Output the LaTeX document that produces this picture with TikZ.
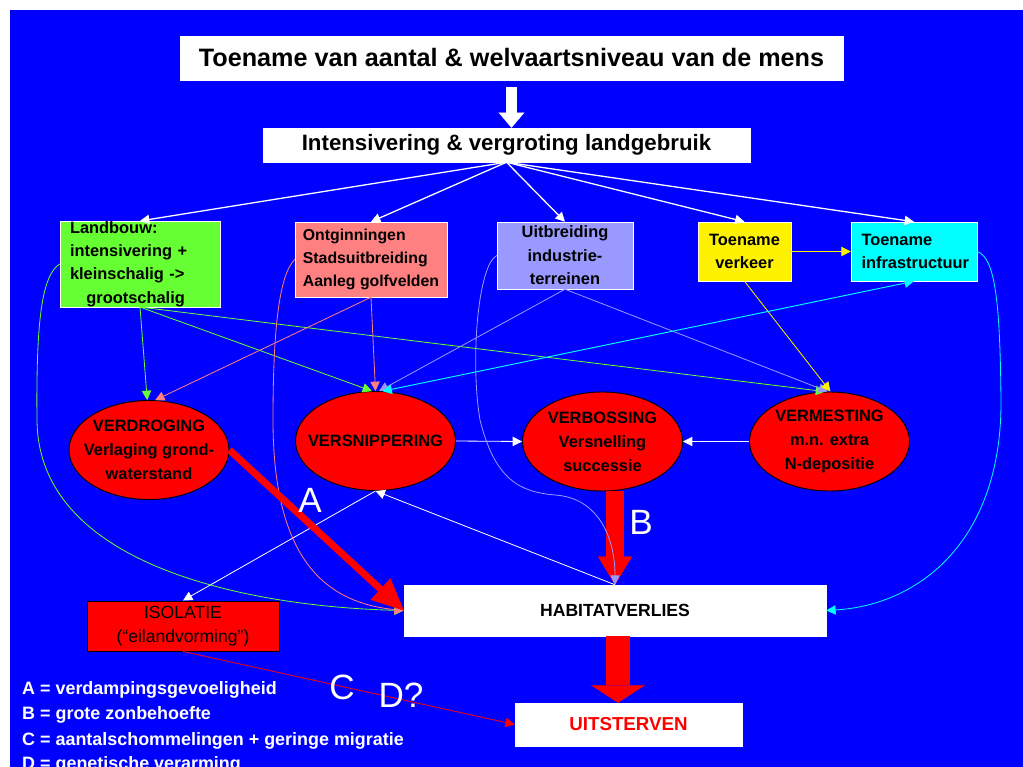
\documentclass[tikz,border=0pt]{standalone}
\usepackage{fontspec}
\setmainfont{Liberation Sans}
\usepackage{tikz}
\usetikzlibrary{arrows.meta,shapes.geometric,calc}
\tikzset{>={Triangle[length=8pt,width=8pt]}}
\definecolor{bgblue}{HTML}{0000FF}
\definecolor{landgreen}{HTML}{66FF33}
\definecolor{ontgpink}{HTML}{FF8080}
\definecolor{lavender}{HTML}{9999FF}
\definecolor{infracyan}{HTML}{00FFFF}
\def\px{0.03cm}
\tikzstyle{whitebox}=[fill=white, draw=white, inner sep=0pt]
\tikzstyle{cause}=[draw=white, inner sep=0pt, font=\bfseries\fontsize{14}{20}\selectfont]
\tikzstyle{effect}=[ellipse, draw=black, thick, fill=red, inner xsep=-12pt, inner ysep=0pt,
  align=center, minimum width=160*\px, minimum height=99*\px,
  font=\bfseries\fontsize{14}{20.4}\selectfont]
\tikzstyle{link}=[->, line width=0.7pt]
\tikzstyle{bigletter}=[text=white, inner sep=0pt, font=\fontsize{30}{30}\selectfont]
\tikzstyle{legend}=[text=white, anchor=west, inner sep=0pt, font=\bfseries\fontsize{15.3}{17}\selectfont]

\begin{document}
\begin{tikzpicture}[x=\px, y=-\px]
  \path[use as bounding box, clip] (0,0) rectangle (1023,767);
  \fill[white] (0,0) rectangle (1023,767);
  \fill[bgblue] (10,10) rectangle (1023,767);

  % top of the chain
  \node[whitebox, minimum width=663*\px, minimum height=44*\px,
    font=\bfseries\fontsize{21.5}{24}\selectfont] (mens) at (511.5,58)
    {Toename van aantal \& welvaartsniveau van de mens};
  \node[whitebox, minimum width=487*\px, minimum height=34*\px,
    font=\bfseries\fontsize{19}{22}\selectfont] (intens) at (506.5,145)
    {Intensivering \& vergroting landgebruik};

  % causes
  \node[cause, fill=landgreen, minimum width=160*\px, minimum height=84*\px,
    text width=140*\px, align=left] (landbouw) at (140,264)
    {Landbouw:\\intensivering +\\kleinschalig ->\\\hspace*{1em}grootschalig};
  \node[cause, fill=ontgpink, minimum width=152*\px, minimum height=75*\px,
    align=left, font=\bfseries\fontsize{13.5}{20}\selectfont] (ontg) at (371,259.5)
    {Ontginningen\\Stadsuitbreiding\\Aanleg golfvelden};
  \node[cause, fill=lavender, minimum width=136*\px, minimum height=67*\px,
    align=center] (uitbr) at (565,255.5)
    {Uitbreiding\\industrie-\\terreinen};
  \node[cause, fill=yellow, minimum width=93*\px, minimum height=59*\px,
    align=center] (verkeer) at (744.5,251.5)
    {Toename\\verkeer};
  \node[cause, fill=infracyan, minimum width=126*\px, minimum height=59*\px,
    text width=105*\px, align=left] (infra) at (914,251.5)
    {Toename\\infrastructuur};

  % effects
  \node[effect] (verdroging) at (149,450) {VERDROGING\\Verlaging grond-\\waterstand};
  \node[effect] (versnip) at (375.5,441) {VERSNIPPERING};
  \node[effect] (verbos) at (602.5,441.5) {VERBOSSING\\Versnelling\\successie};
  \node[effect] (vermest) at (829.5,441.5) {VERMESTING\\m.n. extra\\N-depositie};

  \node[whitebox, minimum width=422*\px, minimum height=51*\px,
    font=\bfseries\fontsize{15}{18}\selectfont] (habitat) at (615,610.5) {HABITATVERLIES};
  \node[whitebox, minimum width=227*\px, minimum height=43*\px, text=red,
    font=\bfseries\fontsize{16}{18}\selectfont] (uitst) at (628.5,724.5) {UITSTERVEN};
  \node[draw=black, thick, fill=red, inner sep=0pt, minimum width=192*\px,
    minimum height=50*\px, align=center, font=\fontsize{15}{20}\selectfont]
    (isolatie) at (183,626) {ISOLATIE\\(“eilandvorming”)};

  % big arrows
  \draw[white, line width=10pt, -{Triangle[length=13pt,width=22pt,line width=0.1pt]}]
    ($(mens.south)+(0,7)$) -- (mens.south |- intens.north);
  \draw[red, line width=15pt, -{Triangle[length=24pt,width=29pt,line width=0.1pt]}]
    (verbos.south -| habitat.north) -- (habitat.north);
  \draw[red, line width=21pt, -{Triangle[length=15pt,width=46pt,line width=0.1pt]}]
    ($(habitat.south)+(3,0)$) -- ($(habitat.south |- uitst.north)+(3,0)$);

  % spreading out
  \foreach \t in {landbouw,ontg,uitbr,verkeer,infra}
    \draw[link, white, line width=1.1pt] (intens.south) -- (\t.north);
  \draw[link, yellow] (verkeer.east) -- (infra.west);

  \draw[link, landgreen] (landbouw.south) -- (verdroging.92);
  \draw[link, landgreen] (landbouw.south) -- (versnip.94);
  \draw[link, landgreen] (landbouw.south) -- (vermest.95);
  \draw[link, ontgpink] (ontg.south) -- (verdroging.83);
  \draw[link, ontgpink] (ontg.south) -- (versnip.90);
  \draw[link, lavender] (uitbr.south) -- (versnip.86);
  \draw[link, lavender] (uitbr.south) -- (vermest.92);
  \draw[link, yellow] (verkeer.south) -- (vermest.89);
  \draw[<->, infracyan, line width=0.8pt] (versnip.82) -- (infra.south);

  \draw[link, white] (versnip.east) -- (verbos.west);
  \draw[link, white] (vermest.west) -- (verbos.east);
  \draw[link, white] (habitat.north) -- (versnip.south);
  \draw[link, white] (versnip.south) -- (isolatie.north);

  % long curves into habitatverlies
  \draw[link, landgreen] (landbouw.west) .. controls (42,275) and (36,320) .. (37,420)
    .. controls (38,570) and (260,607) .. (habitat.west);
  \draw[link, ontgpink] (ontg.west) .. controls (279,275) and (273,330) .. (273,420)
    .. controls (273,565) and (330,603) .. (habitat.west);
  \draw[link, lavender] (uitbr.west) .. controls (478,265) and (470,360) .. (480,420)
    .. controls (495,480) and (520,492) .. (555,495)
    .. controls (600,498) and (615,540) .. (habitat.north);
  \draw[link, infracyan] (infra.east) .. controls (995,258) and (1000,300) .. (1001,400)
    .. controls (1002,540) and (920,605) .. (habitat.east);

  \draw[red, line width=6pt, -{Triangle[length=27pt,width=25pt,line width=0.1pt]}]
    (verdroging.east) -- (habitat.west);
  \draw[link, red] (isolatie.south) -- (uitst.west);

  \node[bigletter] (labA) at (310,500) {A};
  \node[bigletter] (labB) at (641,522) {B};
  \node[bigletter] (labC) at (342,687) {C};
  \node[bigletter] (labD) at (401,695) {D?};

  \node[legend] (legA) at (22,690) {A = verdampingsgevoeligheid};
  \node[legend] (legB) at (22,715) {B = grote zonbehoefte};
  \node[legend] (legC) at (22,741) {C = aantalschommelingen + geringe migratie};
  \node[legend] (legD) at (22,765) {D = genetische verarming};
\end{tikzpicture}
\end{document}
